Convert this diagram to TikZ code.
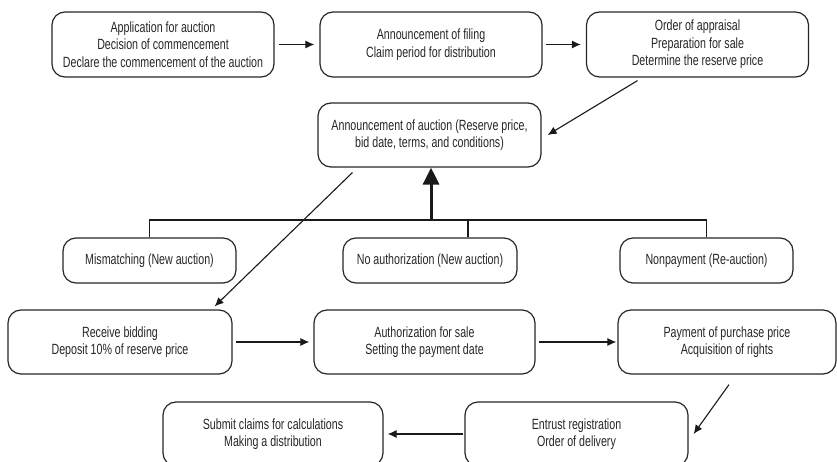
\documentclass[tikz,border=0pt]{standalone}
\usepackage{fontspec}
\setmainfont{Liberation Sans}[FakeStretch=0.72]
\usetikzlibrary{arrows.meta}

\begin{document}
\begin{tikzpicture}[x=1pt, y=-1pt,
    stage/.style={draw=black!85, line width=1.2pt, rounded corners=13pt,
        align=center, inner sep=0pt, text=black!85,
        font=\fontsize{14.8}{17.5}\selectfont,
        minimum width=222pt, minimum height=64pt},
    outcome/.style={stage, minimum width=173pt, minimum height=45pt},
    flow/.style={draw=black!90, line width=1.1pt, -{Latex[length=9pt, width=8pt]}},
    back/.style={draw=black!90, line width=3pt, -{Triangle[length=17pt, width=16pt]}},
    bus/.style={draw=black!90, line width=1.1pt}
]

    \useasboundingbox (0,0) rectangle (837,462);
    \clip (0,0) rectangle (837,462);

    % first row
    \node[stage, minimum height=65pt] (apply) at (163,44.5)
        {Application for auction\\Decision of commencement\\Declare the commencement of the auction};
    \node[stage, minimum height=65pt] (filing) at (431,44.5)
        {Announcement of filing\\Claim period for distribution};
    \node[stage, minimum height=65pt] (appraisal) at (697.5,44.5)
        {Order of appraisal\\Preparation for sale\\Determine the reserve price};

    % announcement
    \node[stage, minimum width=223pt] (announce) at (429.5,135)
        {Announcement of auction (Reserve price,\\bid date, terms, and conditions)};

    % failed outcomes
    \node[outcome] (mismatch) at (149.5,260.5) {Mismatching (New auction)};
    \node[outcome, minimum width=174pt] (noauth) at (430,260.5) {No authorization (New auction)};
    \node[outcome] (nonpay) at (706.5,260.5) {Nonpayment (Re-auction)};

    % second row
    \node[stage, minimum width=224pt] (bidding) at (120,342)
        {Receive bidding\\Deposit 10\% of reserve price};
    \node[stage, minimum width=221pt] (authorize) at (424.5,342)
        {Authorization for sale\\Setting the payment date};
    \node[stage, minimum width=218pt] (payment) at (727,342)
        {Payment of purchase price\\Acquisition of rights};

    % last row
    \node[stage, minimum width=223pt] (entrust) at (576.5,434)
        {Entrust registration\\Order of delivery};
    \node[stage, minimum width=220pt] (submit) at (273,434)
        {Submit claims for calculations\\Making a distribution};

    % arrows
    \path[flow, shorten <=4pt, shorten >=5pt] (apply) -- (filing);
    \path[flow, shorten <=3pt, shorten >=5pt] (filing) -- (appraisal);
    \path[flow] ([shift={(-60,3)}]appraisal.south) -- ([xshift=6]announce.east);
    \path[flow] ([shift={(35,5)}]announce.south west) -- ([shift={(-18,-3)}]bidding.north east);
    \path[flow, shorten <=3pt, shorten >=4pt] (bidding) -- (authorize);
    \path[flow, shorten <=3pt, shorten >=1pt] (authorize) -- (payment);
    \path[flow] ([shift={(2,10)}]payment.south) -- ([xshift=5]entrust.east);
    \path[flow, shorten <=1pt, shorten >=4pt] (entrust) -- (submit);

    % back to the announcement
    \coordinate (join) at (431,220);
    \path[bus] (mismatch.north) -- (mismatch.north |- join) -| (nonpay.north);
    \path[bus] ([xshift=38]noauth.north) -- ++(0,-18);
    \path[back] (join) -- (join |- announce.south);

\end{tikzpicture}
\end{document}
